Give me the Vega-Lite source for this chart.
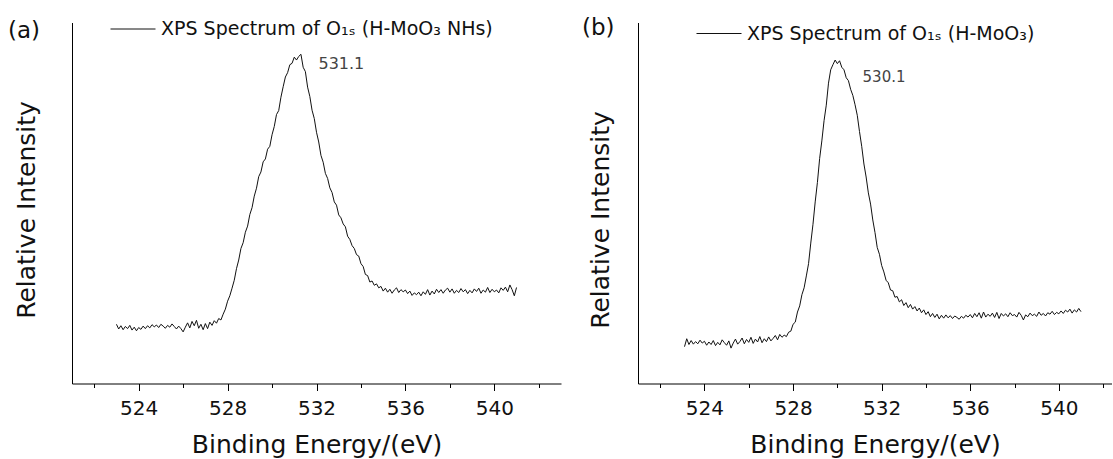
{
  "$schema": "https://vega.github.io/schema/vega-lite/v6.json",
  "background": "white",
  "padding": {"left": 8, "top": 5.5, "right": 0, "bottom": 0},
  "bounds": "flush",
  "spacing": 77,
  "config": {
    "font": "DejaVu Sans",
    "view": {"stroke": null},
    "axis": {"domainColor": "#000", "tickColor": "#000", "labelColor": "#111", "titleColor": "#111", "labelFont": "DejaVu Sans", "titleFont": "DejaVu Sans", "titleFontWeight": "normal", "grid": false, "domainWidth": 1, "tickWidth": 1},
    "legend": {"labelFont": "DejaVu Sans", "labelFontSize": 19, "labelColor": "#111", "labelLimit": 0, "padding": 0, "symbolType": "stroke", "symbolSize": 2025, "symbolStrokeWidth": 1, "labelOffset": 5, "orient": "none"},
    "title": {"font": "DejaVu Sans", "fontSize": 23, "fontWeight": "normal", "color": "#111", "anchor": "start", "frame": "group", "align": "left", "offset": 0}
  },
  "resolve": {"scale": {"color": "independent"}, "legend": {"color": "independent"}},
  "hconcat": [
    {
      "width": 489,
      "height": 361,
      "title": {"text": "(a)", "dx": -64, "dy": 41},
      "layer": [
        {
          "data": {"values": [
{"E":523.0,"I":16.4},{"E":523.1,"I":15.1},{"E":523.2,"I":16.0},{"E":523.3,"I":14.9},{"E":523.4,"I":15.8},{"E":523.5,"I":15.2},{"E":523.6,"I":16.1},{"E":523.7,"I":14.8},{"E":523.8,"I":15.6},{"E":523.9,"I":14.6},
{"E":524.0,"I":15.5},{"E":524.1,"I":15.0},{"E":524.2,"I":15.9},{"E":524.3,"I":15.2},{"E":524.4,"I":16.0},{"E":524.5,"I":15.4},{"E":524.6,"I":16.3},{"E":524.7,"I":15.7},{"E":524.8,"I":16.2},{"E":524.9,"I":15.5},
{"E":525.0,"I":16.4},{"E":525.1,"I":15.9},{"E":525.2,"I":15.3},{"E":525.3,"I":16.1},{"E":525.4,"I":15.6},{"E":525.5,"I":16.5},{"E":525.6,"I":15.8},{"E":525.7,"I":15.1},{"E":525.8,"I":15.9},{"E":525.9,"I":15.2},
{"E":526.0,"I":14.3},{"E":526.1,"I":15.6},{"E":526.2,"I":16.8},{"E":526.3,"I":15.4},{"E":526.4,"I":17.2},{"E":526.5,"I":16.0},{"E":526.6,"I":17.5},{"E":526.7,"I":15.3},{"E":526.8,"I":16.4},{"E":526.9,"I":14.9},
{"E":527.0,"I":16.6},{"E":527.1,"I":15.2},{"E":527.2,"I":17.0},{"E":527.3,"I":16.1},{"E":527.4,"I":17.4},{"E":527.5,"I":16.7},{"E":527.6,"I":18.0},{"E":527.7,"I":17.6},{"E":527.8,"I":19.2},{"E":527.9,"I":20.6},
{"E":528.0,"I":22.8},{"E":528.1,"I":24.3},{"E":528.2,"I":26.4},{"E":528.3,"I":28.6},{"E":528.4,"I":31.8},{"E":528.5,"I":34.2},{"E":528.6,"I":37.4},{"E":528.7,"I":39.0},{"E":528.8,"I":41.9},{"E":528.9,"I":43.6},
{"E":529.0,"I":46.8},{"E":529.1,"I":48.7},{"E":529.2,"I":51.9},{"E":529.3,"I":54.1},{"E":529.4,"I":57.3},{"E":529.5,"I":58.6},{"E":529.6,"I":61.4},{"E":529.7,"I":62.2},{"E":529.8,"I":64.9},{"E":529.9,"I":65.7},
{"E":530.0,"I":68.9},{"E":530.1,"I":71.2},{"E":530.2,"I":74.5},{"E":530.3,"I":75.6},{"E":530.4,"I":79.3},{"E":530.5,"I":82.2},{"E":530.6,"I":84.9},{"E":530.7,"I":86.1},{"E":530.8,"I":88.3},{"E":530.9,"I":88.7},
{"E":531.0,"I":90.4},{"E":531.1,"I":89.6},{"E":531.2,"I":90.6},{"E":531.3,"I":91.2},{"E":531.4,"I":87.6},{"E":531.5,"I":86.4},{"E":531.6,"I":82.1},{"E":531.7,"I":79.5},{"E":531.8,"I":75.7},{"E":531.9,"I":73.4},
{"E":532.0,"I":69.6},{"E":532.1,"I":66.9},{"E":532.2,"I":63.2},{"E":532.3,"I":61.3},{"E":532.4,"I":58.2},{"E":532.5,"I":56.8},{"E":532.6,"I":54.2},{"E":532.7,"I":52.9},{"E":532.8,"I":50.3},{"E":532.9,"I":49.4},
{"E":533.0,"I":46.7},{"E":533.1,"I":45.9},{"E":533.2,"I":44.2},{"E":533.3,"I":43.4},{"E":533.4,"I":40.8},{"E":533.5,"I":39.9},{"E":533.6,"I":38.2},{"E":533.7,"I":37.4},{"E":533.8,"I":35.7},{"E":533.9,"I":35.3},
{"E":534.0,"I":33.2},{"E":534.1,"I":32.4},{"E":534.2,"I":30.2},{"E":534.3,"I":29.9},{"E":534.4,"I":28.1},{"E":534.5,"I":28.4},{"E":534.6,"I":27.2},{"E":534.7,"I":27.6},{"E":534.8,"I":26.5},{"E":534.9,"I":26.9},
{"E":535.0,"I":25.6},{"E":535.1,"I":26.4},{"E":535.2,"I":25.3},{"E":535.3,"I":26.1},{"E":535.4,"I":25.0},{"E":535.5,"I":25.9},{"E":535.6,"I":26.5},{"E":535.7,"I":25.2},{"E":535.8,"I":26.0},{"E":535.9,"I":25.4},
{"E":536.0,"I":25.9},{"E":536.1,"I":24.9},{"E":536.2,"I":25.6},{"E":536.3,"I":24.4},{"E":536.4,"I":25.1},{"E":536.5,"I":24.6},{"E":536.6,"I":25.3},{"E":536.7,"I":24.3},{"E":536.8,"I":25.4},{"E":536.9,"I":24.7},
{"E":537.0,"I":26.0},{"E":537.1,"I":24.5},{"E":537.2,"I":25.6},{"E":537.3,"I":24.8},{"E":537.4,"I":26.1},{"E":537.5,"I":25.2},{"E":537.6,"I":26.0},{"E":537.7,"I":25.0},{"E":537.8,"I":25.9},{"E":537.9,"I":26.4},
{"E":538.0,"I":25.3},{"E":538.1,"I":26.2},{"E":538.2,"I":25.0},{"E":538.3,"I":25.8},{"E":538.4,"I":25.2},{"E":538.5,"I":26.3},{"E":538.6,"I":25.4},{"E":538.7,"I":26.0},{"E":538.8,"I":24.9},{"E":538.9,"I":25.8},
{"E":539.0,"I":25.1},{"E":539.1,"I":26.2},{"E":539.2,"I":25.5},{"E":539.3,"I":26.4},{"E":539.4,"I":25.0},{"E":539.5,"I":25.9},{"E":539.6,"I":25.3},{"E":539.7,"I":26.6},{"E":539.8,"I":25.2},{"E":539.9,"I":26.1},
{"E":540.0,"I":25.4},{"E":540.1,"I":25.9},{"E":540.2,"I":25.1},{"E":540.3,"I":26.5},{"E":540.4,"I":25.8},{"E":540.5,"I":26.7},{"E":540.6,"I":25.4},{"E":540.7,"I":27.3},{"E":540.8,"I":26.0},{"E":540.9,"I":24.3},
{"E":541.0,"I":26.6}
          ]},
          "mark": {"type": "line", "strokeWidth": 1, "interpolate": "linear"},
          "encoding": {
            "x": {"field": "E", "type": "quantitative", "scale": {"domain": [521, 543], "nice": false, "zero": false},
              "axis": {"values": [522,524,526,528,530,532,534,536,538,540,542], "labelExpr": "datum.value % 4 === 0 ? datum.label : ''", "tickSize": {"condition": {"test": "datum.value % 4 === 0", "value": 7}, "value": 4}, "labelFontSize": 20, "labelPadding": 8, "labelOverlap": false, "labelFlush": false, "title": "Binding Energy/(eV)", "titleFontSize": 25, "titlePadding": 14}},
            "y": {"field": "I", "type": "quantitative", "scale": {"domain": [0, 100], "nice": false},
              "axis": {"title": "Relative Intensity", "labels": false, "ticks": false, "titleFontSize": 25, "titlePadding": 33, "titleY": 187}},
            "color": {"datum": "XPS Spectrum of O₁ₛ (H-MoO₃ NHs)", "type": "nominal", "scale": {"range": ["#111"]}, "legend": {"title": null, "legendX": 38, "legendY": -16.5}}
          }
        },
        {
          "data": {"values": [{"E": 531.1, "I": 90.5, "label": "531.1"}]},
          "mark": {"type": "text", "align": "left", "baseline": "middle", "dx": 22, "dy": 7, "fontSize": 16, "color": "#444", "font": "DejaVu Sans"},
          "encoding": {
            "x": {"field": "E", "type": "quantitative"},
            "y": {"field": "I", "type": "quantitative"},
            "text": {"field": "label"}
          }
        }
      ]
    },
    {
      "width": 474,
      "height": 361,
      "title": {"text": "(b)", "dx": -56, "dy": 33},
      "layer": [
        {
          "data": {"values": [
{"E":523.1,"I":10.2},{"E":523.2,"I":12.4},{"E":523.3,"I":10.8},{"E":523.4,"I":11.9},{"E":523.5,"I":10.9},{"E":523.6,"I":11.6},{"E":523.7,"I":11.0},{"E":523.8,"I":12.0},{"E":523.9,"I":11.2},
{"E":524.0,"I":11.7},{"E":524.1,"I":10.6},{"E":524.2,"I":11.5},{"E":524.3,"I":10.8},{"E":524.4,"I":11.9},{"E":524.5,"I":10.5},{"E":524.6,"I":11.4},{"E":524.7,"I":10.7},{"E":524.8,"I":12.1},{"E":524.9,"I":11.3},
{"E":525.0,"I":10.6},{"E":525.1,"I":11.8},{"E":525.2,"I":9.8},{"E":525.3,"I":11.2},{"E":525.4,"I":12.3},{"E":525.5,"I":10.9},{"E":525.6,"I":11.6},{"E":525.7,"I":12.6},{"E":525.8,"I":11.0},{"E":525.9,"I":12.2},
{"E":526.0,"I":11.4},{"E":526.1,"I":12.8},{"E":526.2,"I":11.1},{"E":526.3,"I":12.3},{"E":526.4,"I":11.5},{"E":526.5,"I":13.0},{"E":526.6,"I":11.3},{"E":526.7,"I":12.4},{"E":526.8,"I":11.6},{"E":526.9,"I":12.9},
{"E":527.0,"I":11.8},{"E":527.1,"I":12.5},{"E":527.2,"I":13.3},{"E":527.3,"I":12.1},{"E":527.4,"I":13.6},{"E":527.5,"I":12.8},{"E":527.6,"I":13.4},{"E":527.7,"I":13.0},{"E":527.8,"I":14.2},{"E":527.9,"I":14.5},
{"E":528.0,"I":16.4},{"E":528.1,"I":17.0},{"E":528.2,"I":19.8},{"E":528.3,"I":21.5},{"E":528.4,"I":24.6},{"E":528.5,"I":26.5},{"E":528.6,"I":29.8},{"E":528.7,"I":33.2},{"E":528.8,"I":38.9},{"E":528.9,"I":44.1},
{"E":529.0,"I":50.3},{"E":529.1,"I":55.7},{"E":529.2,"I":62.3},{"E":529.3,"I":67.2},{"E":529.4,"I":72.8},{"E":529.5,"I":77.1},{"E":529.6,"I":83.2},{"E":529.7,"I":86.9},{"E":529.8,"I":88.3},{"E":529.9,"I":89.6},
{"E":530.0,"I":88.6},{"E":530.1,"I":89.4},{"E":530.2,"I":87.6},{"E":530.3,"I":86.9},{"E":530.4,"I":84.7},{"E":530.5,"I":83.9},{"E":530.6,"I":81.5},{"E":530.7,"I":79.8},{"E":530.8,"I":77.2},{"E":530.9,"I":74.3},
{"E":531.0,"I":69.8},{"E":531.1,"I":65.7},{"E":531.2,"I":60.8},{"E":531.3,"I":57.2},{"E":531.4,"I":52.8},{"E":531.5,"I":49.7},{"E":531.6,"I":45.3},{"E":531.7,"I":41.8},{"E":531.8,"I":37.7},{"E":531.9,"I":35.8},
{"E":532.0,"I":32.7},{"E":532.1,"I":30.9},{"E":532.2,"I":28.6},{"E":532.3,"I":27.9},{"E":532.4,"I":25.9},{"E":532.5,"I":25.7},{"E":532.6,"I":23.9},{"E":532.7,"I":24.1},{"E":532.8,"I":22.6},{"E":532.9,"I":23.2},
{"E":533.0,"I":21.6},{"E":533.1,"I":22.4},{"E":533.2,"I":21.0},{"E":533.3,"I":21.9},{"E":533.4,"I":20.6},{"E":533.5,"I":21.3},{"E":533.6,"I":20.1},{"E":533.7,"I":20.9},{"E":533.8,"I":19.6},{"E":533.9,"I":20.4},
{"E":534.0,"I":19.1},{"E":534.1,"I":19.9},{"E":534.2,"I":18.5},{"E":534.3,"I":19.4},{"E":534.4,"I":18.3},{"E":534.5,"I":19.2},{"E":534.6,"I":17.9},{"E":534.7,"I":18.9},{"E":534.8,"I":18.1},{"E":534.9,"I":19.0},
{"E":535.0,"I":18.2},{"E":535.1,"I":18.8},{"E":535.2,"I":18.0},{"E":535.3,"I":18.7},{"E":535.4,"I":18.3},{"E":535.5,"I":17.8},{"E":535.6,"I":18.6},{"E":535.7,"I":18.1},{"E":535.8,"I":18.9},{"E":535.9,"I":18.4},
{"E":536.0,"I":19.1},{"E":536.1,"I":18.2},{"E":536.2,"I":19.4},{"E":536.3,"I":18.5},{"E":536.4,"I":19.6},{"E":536.5,"I":18.1},{"E":536.6,"I":19.8},{"E":536.7,"I":18.4},{"E":536.8,"I":19.2},{"E":536.9,"I":18.6},
{"E":537.0,"I":19.5},{"E":537.1,"I":18.3},{"E":537.2,"I":19.7},{"E":537.3,"I":18.0},{"E":537.4,"I":19.4},{"E":537.5,"I":18.7},{"E":537.6,"I":19.3},{"E":537.7,"I":18.5},{"E":537.8,"I":19.6},{"E":537.9,"I":18.8},
{"E":538.0,"I":19.1},{"E":538.1,"I":18.4},{"E":538.2,"I":19.7},{"E":538.3,"I":18.9},{"E":538.4,"I":17.6},{"E":538.5,"I":19.0},{"E":538.6,"I":18.5},{"E":538.7,"I":19.5},{"E":538.8,"I":18.8},{"E":538.9,"I":19.2},
{"E":539.0,"I":18.6},{"E":539.1,"I":19.8},{"E":539.2,"I":18.9},{"E":539.3,"I":19.4},{"E":539.4,"I":18.7},{"E":539.5,"I":19.6},{"E":539.6,"I":19.2},{"E":539.7,"I":20.0},{"E":539.8,"I":19.1},{"E":539.9,"I":19.7},
{"E":540.0,"I":19.3},{"E":540.1,"I":20.1},{"E":540.2,"I":19.4},{"E":540.3,"I":20.3},{"E":540.4,"I":19.8},{"E":540.5,"I":20.6},{"E":540.6,"I":19.5},{"E":540.7,"I":20.4},{"E":540.8,"I":19.8},{"E":540.9,"I":20.8},
{"E":541.0,"I":19.9}
          ]},
          "mark": {"type": "line", "strokeWidth": 1, "interpolate": "linear"},
          "encoding": {
            "x": {"field": "E", "type": "quantitative", "scale": {"domain": [521, 542.4], "nice": false, "zero": false},
              "axis": {"values": [522,524,526,528,530,532,534,536,538,540,542], "labelExpr": "datum.value % 4 === 0 ? datum.label : ''", "tickSize": {"condition": {"test": "datum.value % 4 === 0", "value": 7}, "value": 4}, "labelFontSize": 20, "labelPadding": 8, "labelOverlap": false, "labelFlush": false, "title": "Binding Energy/(eV)", "titleFontSize": 25, "titlePadding": 14}},
            "y": {"field": "I", "type": "quantitative", "scale": {"domain": [0, 100], "nice": false},
              "axis": {"title": "Relative Intensity", "labels": false, "ticks": false, "titleFontSize": 25, "titlePadding": 25, "titleY": 197}},
            "color": {"datum": "XPS Spectrum of O₁ₛ (H-MoO₃)", "type": "nominal", "scale": {"range": ["#111"]}, "legend": {"title": null, "legendX": 58, "legendY": -12}}
          }
        },
        {
          "data": {"values": [{"E": 530.1, "I": 88.6, "label": "530.1"}]},
          "mark": {"type": "text", "align": "left", "baseline": "middle", "dx": 23, "dy": 13, "fontSize": 15, "color": "#444", "font": "DejaVu Sans"},
          "encoding": {
            "x": {"field": "E", "type": "quantitative"},
            "y": {"field": "I", "type": "quantitative"},
            "text": {"field": "label"}
          }
        }
      ]
    }
  ]
}
